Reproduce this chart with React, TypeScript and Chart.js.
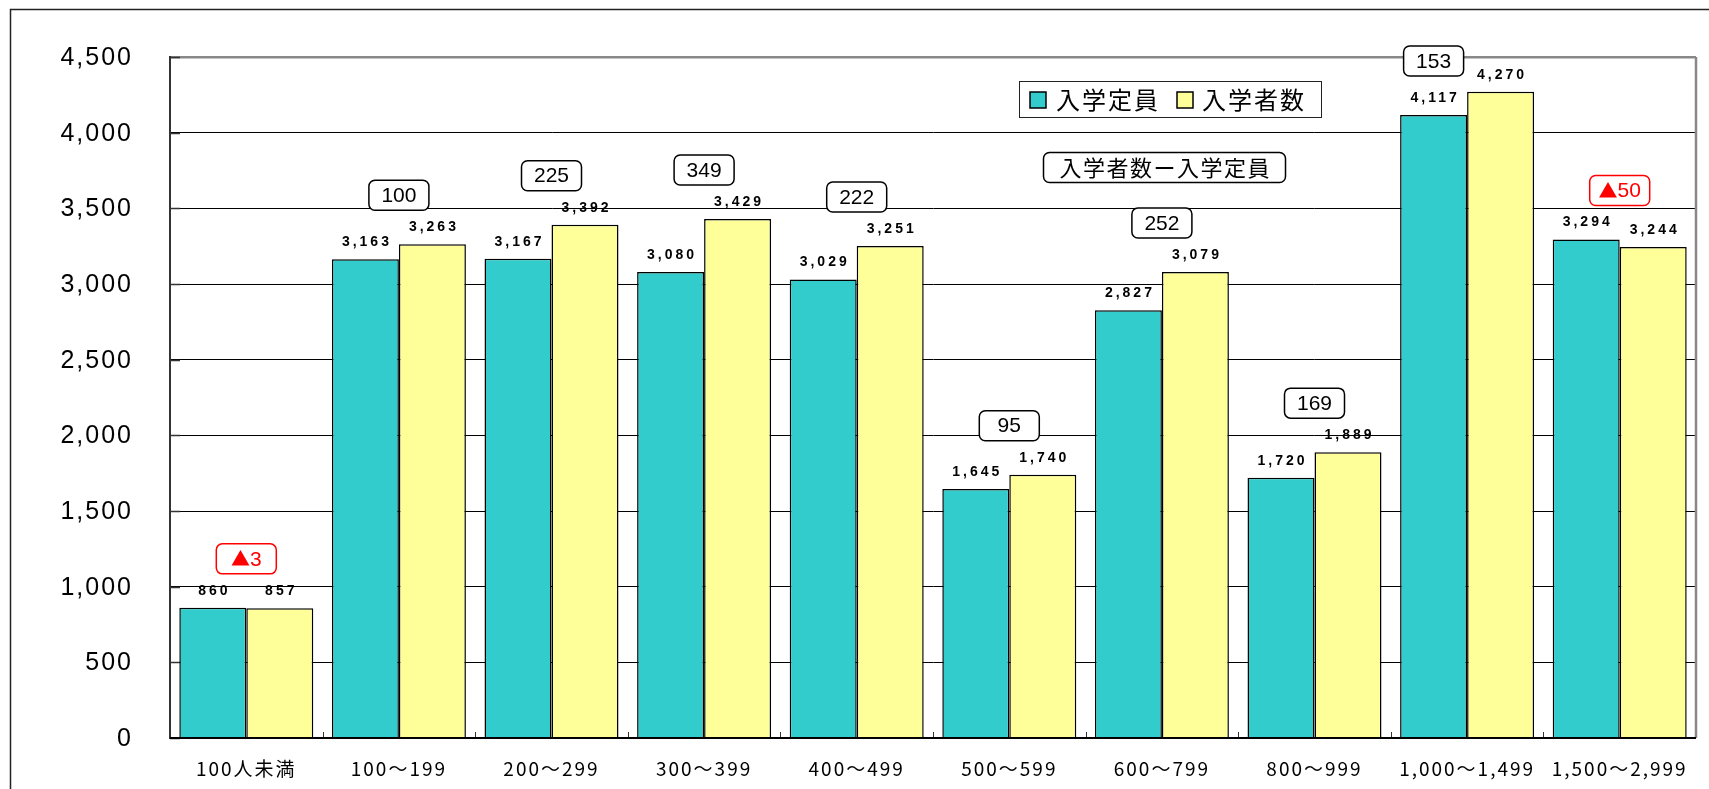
import React, { useEffect, useRef } from "react";
import { Chart, registerables } from "chart.js";

Chart.register(...registerables);

const categories = [
  "100人未満",
  "100～199",
  "200～299",
  "300～399",
  "400～499",
  "500～599",
  "600～799",
  "800～999",
  "1,000～1,499",
  "1,500～2,999",
];
const capacity = [860, 3163, 3167, 3080, 3029, 1645, 2827, 1720, 4117, 3294];
const enrolled = [857, 3263, 3392, 3429, 3251, 1740, 3079, 1889, 4270, 3244];
const seriesNames = ["入学定員", "入学者数"];
const diffCaption = "入学者数ー入学定員";
const yMax = 4500;
const yStep = 500;

const TEAL = "#33CCCC";
const YELLOW = "#FFFF99";
const JP = '"Noto Sans CJK JP", "Noto Sans", sans-serif';
const LAT = '"Liberation Sans", Arial, sans-serif';

const fmt = (v: number) => v.toLocaleString("en-US");

const decorPlugin = {
  id: "decor",
  beforeDraw(chart: any) {
    const ctx = chart.ctx;
    ctx.save();
    ctx.fillStyle = "#fff";
    ctx.fillRect(0, 0, chart.width, chart.height);
    ctx.strokeStyle = "#222";
    ctx.lineWidth = 1.5;
    ctx.beginPath();
    ctx.moveTo(10.5, chart.height);
    ctx.lineTo(10.5, 9.5);
    ctx.lineTo(chart.width, 9.5);
    ctx.stroke();
    ctx.restore();
    (ctx as any).letterSpacing = "2px";
  },
  beforeDatasetsDraw(chart: any) {
    const ctx = chart.ctx;
    (ctx as any).letterSpacing = "0px";
    const a = chart.chartArea;
    const y = chart.scales.y;
    const x = chart.scales.x;
    ctx.save();
    ctx.strokeStyle = "#888";
    ctx.lineWidth = 2.5;
    ctx.beginPath();
    ctx.moveTo(a.right, a.top);
    ctx.lineTo(a.right, a.bottom);
    ctx.stroke();
    ctx.strokeStyle = "#333";
    ctx.lineWidth = 1.5;
    for (let v = 0; v <= yMax; v += yStep) {
      const py = Math.round(y.getPixelForValue(v)) + 0.5;
      ctx.beginPath();
      ctx.moveTo(a.left, py);
      ctx.lineTo(a.left + 10, py);
      ctx.stroke();
    }
    ctx.lineWidth = 1;
    for (let i = 1; i < categories.length; i++) {
      const px = Math.round((x.getPixelForValue(i - 1) + x.getPixelForValue(i)) / 2) + 0.5;
      ctx.beginPath();
      ctx.moveTo(px, a.bottom - 6);
      ctx.lineTo(px, a.bottom);
      ctx.stroke();
    }
    // y tick labels
    ctx.fillStyle = "#000";
    ctx.font = `25px ${LAT}`;
    ctx.textAlign = "right";
    ctx.textBaseline = "middle";
    (ctx as any).letterSpacing = "2px";
    y.ticks.forEach((t: any) => {
      ctx.fillText(fmt(t.value), a.left - 37, y.getPixelForValue(t.value) + 1);
    });
    (ctx as any).letterSpacing = "0px";
    ctx.restore();
  },
  afterDatasetsDraw(chart: any) {
    const ctx = chart.ctx;
    const a = chart.chartArea;
    const xs = chart.scales.x;
    ctx.save();
    ctx.strokeStyle = "#000";
    ctx.lineWidth = 2;
    ctx.beginPath();
    ctx.moveTo(a.left, a.bottom);
    ctx.lineTo(a.right, a.bottom);
    ctx.stroke();

    // value labels
    ctx.fillStyle = "#000";
    ctx.font = `bold 14px ${LAT}`;
    ctx.textAlign = "center";
    ctx.textBaseline = "middle";
    (ctx as any).letterSpacing = "3px";
    const labelYs: number[][] = [];
    const barXs: number[][] = [];
    chart.data.datasets.forEach((ds: any, di: number) => {
      const meta = chart.getDatasetMeta(di);
      meta.data.forEach((el: any, i: number) => {
        const ly = el.y - 17;
        labelYs[i] = labelYs[i] || [];
        labelYs[i].push(ly);
        barXs[i] = barXs[i] || [];
        barXs[i].push(el.x);
        ctx.fillText(fmt(ds.data[i]), el.x + 1.5, ly);
      });
    });
    (ctx as any).letterSpacing = "0px";

    // difference boxes
    for (let i = 0; i < categories.length; i++) {
      const diff = enrolled[i] - capacity[i];
      const neg = diff < 0;
      const num = String(Math.abs(diff));
      let cx = xs.getPixelForValue(i);
      let cy = Math.min(...labelYs[i]) - 32;
      if (cy < 61) {
        cy = 61;
        cx = barXs[i][0];
      }
      const w = 60;
      const h = 30;
      ctx.beginPath();
      (ctx as any).roundRect(cx - w / 2, cy - h / 2, w, h, 6);
      ctx.fillStyle = "#fff";
      ctx.fill();
      ctx.strokeStyle = neg ? "#FF0000" : "#000";
      ctx.lineWidth = 1.5;
      ctx.stroke();
      ctx.fillStyle = neg ? "#FF0000" : "#000";
      ctx.textAlign = "left";
      ctx.font = `21px ${LAT}`;
      const nw = ctx.measureText(num).width;
      if (neg) {
        ctx.font = `19px ${JP}`;
        const tw = ctx.measureText("▲").width;
        const start = cx - (tw + nw) / 2;
        ctx.fillText("▲", start, cy);
        ctx.font = `21px ${LAT}`;
        ctx.fillText(num, start + tw, cy + 1);
      } else {
        ctx.fillText(num, cx - nw / 2, cy + 1);
      }
    }

    // legend
    ctx.fillStyle = "#fff";
    ctx.fillRect(1019.5, 81.5, 302, 36);
    ctx.strokeStyle = "#222";
    ctx.lineWidth = 1;
    ctx.strokeRect(1019.5, 81.5, 302, 36);
    const items = [
      { x: 1030, tx: 1056, color: TEAL, name: seriesNames[0] },
      { x: 1177, tx: 1202, color: YELLOW, name: seriesNames[1] },
    ];
    ctx.font = `24px ${JP}`;
    ctx.textAlign = "left";
    (ctx as any).letterSpacing = "2px";
    items.forEach((it) => {
      ctx.fillStyle = it.color;
      ctx.fillRect(it.x, 92, 16, 16);
      ctx.strokeStyle = "#000";
      ctx.lineWidth = 1.5;
      ctx.strokeRect(it.x, 92, 16, 16);
      ctx.fillStyle = "#000";
      ctx.fillText(it.name, it.tx, 100);
    });

    // caption box
    ctx.beginPath();
    (ctx as any).roundRect(1043.5, 152.5, 242, 30, 6);
    ctx.fillStyle = "#fff";
    ctx.fill();
    ctx.strokeStyle = "#000";
    ctx.lineWidth = 1.5;
    ctx.stroke();
    ctx.fillStyle = "#000";
    ctx.font = `22px ${JP}`;
    ctx.textAlign = "center";
    (ctx as any).letterSpacing = "1.5px";
    ctx.fillText(diffCaption, 1164.5 + 0.75, 168);
    (ctx as any).letterSpacing = "0px";
    ctx.restore();
  },
};

export default function App() {
  const ref = useRef<HTMLCanvasElement | null>(null);
  useEffect(() => {
    if (!ref.current) return;
    const chart = new Chart(ref.current, {
      type: "bar",
      data: {
        labels: categories,
        datasets: [
          {
            label: seriesNames[0],
            data: capacity,
            backgroundColor: TEAL,
            borderColor: "#000",
            borderWidth: 1.5,
            categoryPercentage: 0.878,
            barPercentage: 1,
          },
          {
            label: seriesNames[1],
            data: enrolled,
            backgroundColor: YELLOW,
            borderColor: "#000",
            borderWidth: 1.5,
            categoryPercentage: 0.878,
            barPercentage: 1,
          },
        ],
      },
      options: {
        responsive: false,
        devicePixelRatio: 1,
        animation: false,
        layout: { padding: { top: 57, right: 13, bottom: 0, left: 0 } },
        plugins: {
          legend: { display: false },
          tooltip: { enabled: false },
        },
        scales: {
          x: {
            grid: { display: false, drawTicks: false },
            border: { display: false },
            ticks: {
              font: { family: JP, size: 19 },
              color: "#000",
              padding: 19,
              maxRotation: 0,
              autoSkip: false,
            },
            afterFit: (s: any) => {
              s.height = 51;
            },
          },
          y: {
            min: 0,
            max: yMax,
            ticks: {
              stepSize: yStep,
              display: false,
            },
            grid: {
              drawTicks: false,
              color: (c: any) => (c.tick && c.tick.value === yMax ? "#888" : "#000"),
              lineWidth: (c: any) => (c.tick && c.tick.value === yMax ? 2.5 : 1),
            },
            border: { color: "#333", width: 2 },
            afterFit: (s: any) => {
              s.width = 170;
            },
          },
        },
      },
      plugins: [decorPlugin],
    });
    return () => chart.destroy();
  }, []);
  return (
    <div
      style={{
        position: "fixed",
        left: 0,
        top: 0,
        width: 1709,
        height: 789,
        background: "#fff",
      }}
    >
      <canvas ref={ref} width={1709} height={789} style={{ display: "block" }} />
    </div>
  );
}
